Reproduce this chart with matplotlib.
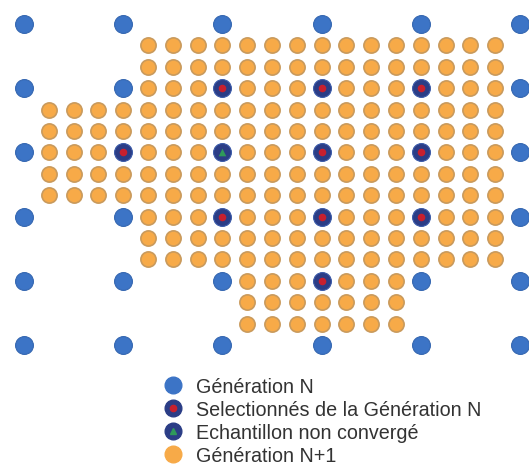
import matplotlib.pyplot as plt
from matplotlib.lines import Line2D

# lattice: fine columns 0..20 (coarse every 4), fine rows 0..15 (coarse every 3)
n_cols = 21
n_rows = 16
coarse_col_step = 4
coarse_row_step = 3

# Generation N+1 : for each fine row, the range of columns filled (inclusive)
fine_rows = [1, 2, 3, 4, 5, 6, 7, 8, 9, 10, 11, 12, 13, 14]
fine_col_start = [5, 5, 5, 1, 1, 1, 1, 1, 5, 5, 5, 9, 9, 9]
fine_col_end = [19, 19, 19, 19, 19, 19, 19, 19, 19, 19, 19, 15, 15, 15]

# selected samples of generation N (row, col)
selected_rows = [3, 3, 3, 6, 6, 6, 9, 9, 9, 12]
selected_cols = [8, 12, 16, 4, 12, 16, 8, 12, 16, 12]

# non-converged sample
nonconv_rows = [6]
nonconv_cols = [8]

labels = [
    "Génération N",
    "Selectionnés de la Génération N",
    "Echantillon non convergé",
    "Génération N+1",
]

BLUE = "#3c74c6"
NAVY = "#2b3d86"
RED = "#c8202e"
GREEN = "#2f9a5a"
ORANGE = "#f7aa48"
ORANGE_EDGE = "#c99a5c"

plt.rcParams["font.family"] = ["Liberation Sans", "DejaVu Sans"]

fig = plt.figure(figsize=(5.29, 4.77), dpi=100)
ax = fig.add_axes([0, 0, 1, 1])

special = set(zip(selected_rows, selected_cols)) | set(zip(nonconv_rows, nonconv_cols))

# coarse points (generation N), excluding selected / non converged
bx, by = [], []
for r in range(0, n_rows, coarse_row_step):
    for c in range(0, n_cols, coarse_col_step):
        if (r, c) not in special:
            bx.append(c)
            by.append(r)

# fine points (generation N+1), skipping coarse positions
ox, oy = [], []
for r, c0, c1 in zip(fine_rows, fine_col_start, fine_col_end):
    for c in range(c0, c1 + 1):
        if r % coarse_row_step == 0 and c % coarse_col_step == 0:
            continue
        ox.append(c)
        oy.append(r)

ax.scatter(ox, oy, s=120, color=ORANGE, edgecolors=ORANGE_EDGE, linewidths=1.2, zorder=2)
ax.scatter(bx, by, s=165, color=BLUE, edgecolors="#3466b0", linewidths=0.8, zorder=3)
ax.scatter(selected_cols, selected_rows, s=165, color=NAVY, edgecolors="#3a5aa8",
           linewidths=0.8, zorder=3)
ax.scatter(selected_cols, selected_rows, s=30, color=RED, linewidths=0, zorder=4)
ax.scatter(nonconv_cols, nonconv_rows, s=165, color=NAVY, edgecolors="#3a5aa8",
           linewidths=0.8, zorder=3)
ax.scatter(nonconv_cols, nonconv_rows, s=30, color=GREEN, marker="^", linewidths=0, zorder=4)

px_x = 24.8
px_y = 21.4
x0 = -24 / px_x
y0 = -25 / px_y
ax.set_xlim(x0, x0 + 529 / px_x)
ax.set_ylim(y0 + 477 / px_y, y0)
ax.axis("off")

handles = [
    Line2D([], [], ls="none", marker="o", ms=12, mfc=BLUE, mec=BLUE),
    (Line2D([], [], ls="none", marker="o", ms=12, mfc=NAVY, mec=NAVY),
     Line2D([], [], ls="none", marker="o", ms=4.5, mfc=RED, mec=RED)),
    (Line2D([], [], ls="none", marker="o", ms=12, mfc=NAVY, mec=NAVY),
     Line2D([], [], ls="none", marker="^", ms=4.5, mfc=GREEN, mec=GREEN)),
    Line2D([], [], ls="none", marker="o", ms=12, mfc=ORANGE, mec=ORANGE),
]
leg = fig.legend(handles, labels, loc="upper left", bbox_to_anchor=(0.308, 0.207),
                 frameon=False, fontsize=14.2, handlelength=1.0, handletextpad=0.7,
                 labelspacing=0.2, borderpad=0, borderaxespad=0)
for t in leg.get_texts():
    t.set_color("#333333")

fig.savefig("out.png", dpi=100)
